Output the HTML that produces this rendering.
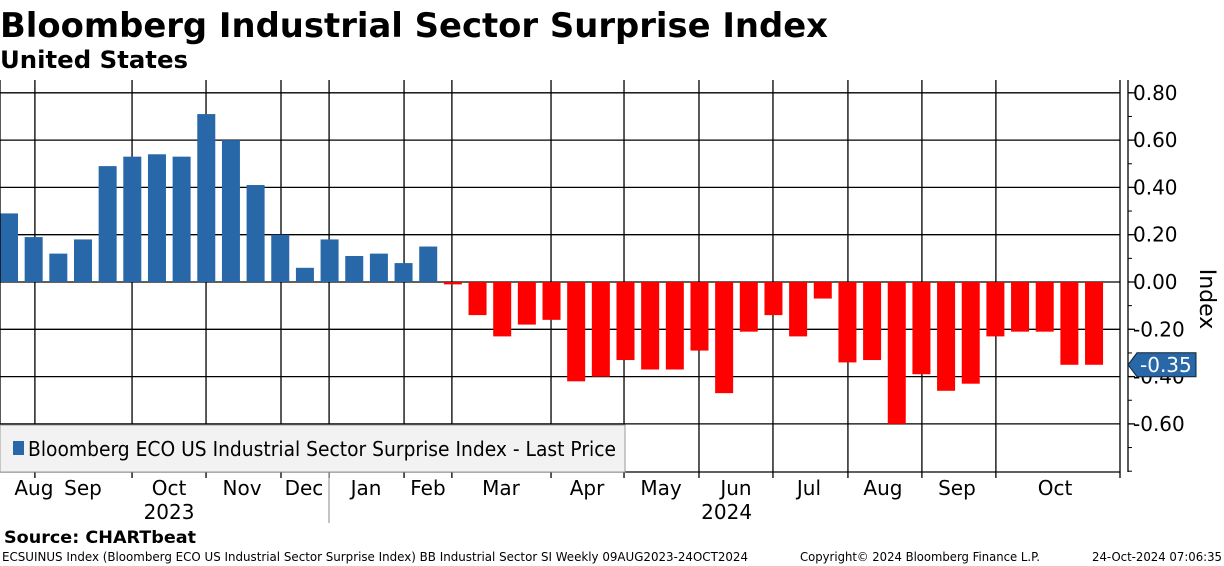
<!DOCTYPE html>
<html><head><meta charset="utf-8"><style>
body{margin:0;background:#fff;}
svg{display:block;font-family:"DejaVu Sans","Liberation Sans",sans-serif;}
</style></head><body>
<svg id="chart" width="1224" height="566" viewBox="0 0 1224 566">
<text x="0" y="37" font-size="34" font-weight="bold" textLength="828" lengthAdjust="spacingAndGlyphs">Bloomberg Industrial Sector Surprise Index</text>
<text x="0" y="68" font-size="24" font-weight="bold" textLength="188" lengthAdjust="spacingAndGlyphs">United States</text>
<g id="grid"></g>
<g id="bars"></g>
<g id="axis"></g>
<g id="xaxis"></g>
<rect x="0" y="425" width="625" height="47" fill="#f2f2f2" stroke="#999" stroke-width="1"/>
<rect x="13" y="441" width="11" height="14" fill="#2868a8"/>
<text x="28" y="456" font-size="20" textLength="588" lengthAdjust="spacingAndGlyphs">Bloomberg ECO US Industrial Sector Surprise Index - Last Price</text>
<text x="1219" y="280" font-size="22" transform="rotate(90 1200 280)" text-anchor="middle">Index</text>
<g id="badge"></g>
<text x="4" y="543" font-size="17" font-weight="bold" textLength="192" lengthAdjust="spacingAndGlyphs">Source: CHARTbeat</text>
<text x="2" y="561" font-size="12" textLength="746" lengthAdjust="spacingAndGlyphs">ECSUINUS Index (Bloomberg ECO US Industrial Sector Surprise Index) BB Industrial Sector SI  Weekly 09AUG2023-24OCT2024</text>
<text x="800" y="561" font-size="12" textLength="240" lengthAdjust="spacingAndGlyphs">Copyright© 2024 Bloomberg Finance L.P.</text>
<text x="1222" y="561" font-size="12" text-anchor="end" textLength="130" lengthAdjust="spacingAndGlyphs">24-Oct-2024 07:06:35</text>
</svg>
<script>
const values = [0.29,0.19,0.12,0.18,0.49,0.53,0.54,0.53,0.71,0.60,0.41,0.20,0.06,0.18,0.11,0.12,0.08,0.15,
-0.01,-0.14,-0.23,-0.18,-0.16,-0.42,-0.40,-0.33,-0.37,-0.37,-0.29,-0.47,-0.21,-0.14,-0.23,-0.07,-0.34,-0.33,-0.60,-0.39,-0.46,-0.43,-0.23,-0.21,-0.21,-0.35,-0.35];
const yTicks = [0.8,0.6,0.4,0.2,0,-0.2,-0.4,-0.6];
const monthLabels = ["Aug","Sep","Oct","Nov","Dec","Jan","Feb","Mar","Apr","May","Jun","Jul","Aug","Sep","Oct"];
const monthIdx = [1.01,3.0,6.49,9.45,11.96,14.48,16.99,19.95,23.44,26.44,29.48,32.44,35.44,38.44,42.42];
const gridIdx = [1.05,4.99,7.99,11.03,12.98,16.02,17.96,21.98,24.94,27.98,30.98,34.02,37.02,40.02];
const years = ["2023","2024"];
const yearIdx = [6.49,29.1];
const lastValue = values[values.length-1];

const NS="http://www.w3.org/2000/svg";
const X0=9, DX=24.66, BW=18, ZERO=282, PPU=236.5, LEFT=0, RIGHT=1120, TOP=80, BOTTOM=472;
const x = i => X0 + i*DX;
const y = v => ZERO - v*PPU;
function mk(tag, attrs, parent){const e=document.createElementNS(NS,tag);for(const k in attrs)e.setAttribute(k,attrs[k]);parent.appendChild(e);return e;}
const grid=document.getElementById('grid'), bars=document.getElementById('bars'), axis=document.getElementById('axis'), xaxis=document.getElementById('xaxis');

yTicks.forEach(t=>{
  const l=mk('line',{x1:LEFT,x2:RIGHT,y1:y(t),y2:y(t),stroke:'#000','stroke-width':1.3},grid);
  
  
  const tk=mk('line',{x1:1128,x2:1135,y1:y(t),y2:y(t),stroke:'#000','stroke-width':1.3},axis);
  
  
  const tx=mk('text',{x:1133,y:y(t)+7,'font-size':20},axis);
  tx.textContent=(t<0?'-':'')+Math.abs(t).toFixed(2);
  
  
});
for(let v=0.9;v>=-0.81;v-=0.1){
  const yy=y(v); if(yy<TOP||yy>BOTTOM) continue;
  const m=mk('line',{x1:1128,x2:1132,y1:yy,y2:yy,stroke:'#000','stroke-width':1},axis);
  
  
}
gridIdx.forEach(g=>{
  const gx=x(g);
  const l=mk('line',{x1:gx,x2:gx,y1:TOP,y2:BOTTOM+6,stroke:'#000','stroke-width':1.3},grid);
  
  
});
[[LEFT,BOTTOM,RIGHT,BOTTOM],[RIGHT,TOP,RIGHT,BOTTOM+6],[1128,TOP,1128,BOTTOM],[0,TOP,0,BOTTOM]].forEach(a=>{
  const l=mk('line',{x1:a[0],y1:a[1],x2:a[2],y2:a[3],stroke:'#000','stroke-width':1.3},axis);
  
  
});
values.forEach((v,i)=>{
  const r=mk('rect',{x:x(i)-BW/2,y:Math.min(y(v),ZERO),width:BW,height:Math.max(Math.abs(y(v)-ZERO),1.5),fill:v>=0?'#2868a8':'#ff0000'},bars);
  
  
});
monthLabels.forEach((m,i)=>{
  const t=mk('text',{x:x(monthIdx[i]),y:495,'font-size':20,'text-anchor':'middle'},xaxis);
  t.textContent=m;
  
  
});
years.forEach((yr,i)=>{
  const t=mk('text',{x:x(yearIdx[i]),y:519,'font-size':20,'text-anchor':'middle'},xaxis);
  t.textContent=yr;
  
  
});
const sep=mk('line',{x1:329,x2:329,y1:472,y2:523,stroke:'#888','stroke-width':1},xaxis);


const badge=document.getElementById('badge');
const by=y(lastValue);
const bp=mk('path',{d:`M1128 ${by} L1137 ${by-12} L1196 ${by-12} L1196 ${by+12} L1137 ${by+12} Z`,fill:'#2868a8',stroke:'#123',"stroke-width":1},badge);


const bt=mk('text',{x:1140,y:by+7,'font-size':20,fill:'#fff'},badge);
bt.textContent=lastValue.toFixed(2);


</script>
</body></html>
